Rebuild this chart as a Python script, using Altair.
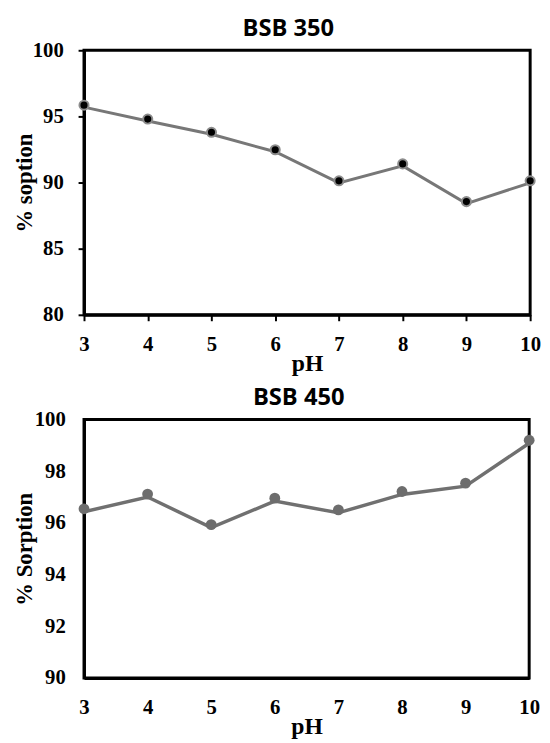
import altair as alt
import pandas as pd

# ---- data ----
ph = [3, 4, 5, 6, 7, 8, 9, 10]
sorption_350 = [95.70, 94.65, 93.65, 92.33, 89.98, 91.26, 88.41, 89.98]
sorption_450 = [96.43, 97.00, 95.82, 96.84, 96.39, 97.10, 97.42, 99.08]
ph_ticks = [3, 4, 5, 6, 7, 8, 9, 10]
y_ticks_350 = [80, 85, 90, 95, 100]
y_ticks_450 = [90, 92, 94, 96, 98, 100]

df350 = pd.DataFrame({"pH": ph, "value": sorption_350})
df450 = pd.DataFrame({"pH": ph, "value": sorption_450})

SERIF = "Liberation Serif"
TITLE_FONT = "Open Sans"

common_axis = dict(
    grid=False,
    domainColor="black",
    domainWidth=3,
    tickColor="black",
    labelFont=SERIF,
    labelFontSize=21,
    labelFontWeight="bold",
    labelColor="black",
    labelOverlap=False,
    titleFont=SERIF,
    titleFontWeight="bold",
    titleColor="black",
)

# ---------------- top chart: BSB 350 ----------------
x350 = alt.X(
    "pH:Q",
    scale=alt.Scale(domain=[3, 10], nice=False, zero=False),
    axis=alt.Axis(
        values=ph_ticks, title="pH", tickSize=6, tickWidth=2, labelPadding=13,
        labelFlush=False, titleFontSize=24, titlePadding=-3,
        **common_axis,
    ),
)
y350 = alt.Y(
    "value:Q",
    scale=alt.Scale(domain=[80, 100], nice=False, zero=False),
    axis=alt.Axis(
        values=y_ticks_350, title="% soption", tickSize=6, tickWidth=2, labelPadding=15,
        titleFontSize=23, titlePadding=-4,
        **common_axis,
    ),
)

base350 = alt.Chart(df350)
line350 = base350.mark_line(color="#777777", strokeWidth=3).encode(x=x350, y=y350)
pts350 = base350.mark_circle(
    size=85, fill="black", stroke="#8c8c8c", strokeWidth=2, opacity=1, yOffset=-2
).encode(x=x350, y=y350)

top = alt.layer(line350, pts350).properties(
    width=452,
    height=268,
    title=alt.TitleParams(
        "BSB 350", font=TITLE_FONT, fontSize=24, fontWeight="bold", color="black",
        anchor="middle", frame="group", offset=-2, dx=-19,
    ),
)

# ---------------- bottom chart: BSB 450 ----------------
x450 = alt.X(
    "pH:Q",
    scale=alt.Scale(domain=[3, 10], nice=False, zero=False),
    axis=alt.Axis(
        values=ph_ticks, title="pH", ticks=False, labelPadding=19,
        labelFlush=False, titleFontSize=24, titlePadding=-3,
        **common_axis,
    ),
)
y450 = alt.Y(
    "value:Q",
    scale=alt.Scale(domain=[90, 100], nice=False, zero=False),
    axis=alt.Axis(
        values=y_ticks_450, title="% Sorption", ticks=False, labelPadding=19,
        titleFontSize=23, titlePadding=-2,
        **common_axis,
    ),
)

base450 = alt.Chart(df450)
line450 = base450.mark_line(color="#707070", strokeWidth=3.5).encode(x=x450, y=y450)
pts450 = base450.mark_circle(size=120, color="#6d6d6d", opacity=1, yOffset=-3).encode(
    x=x450, y=y450
)

bottom = alt.layer(line450, pts450).properties(
    width=451,
    height=262,
    title=alt.TitleParams(
        "BSB 450", font=TITLE_FONT, fontSize=24, fontWeight="bold", color="black",
        anchor="middle", frame="group", offset=-1, dx=-8,
    ),
)

chart = (
    alt.vconcat(top, bottom, spacing=7)
    .properties(padding={"left": 4, "top": 3, "right": 0, "bottom": 0})
    .configure_view(stroke="black", strokeWidth=3)
)

chart.save("out.html", embed_options={"renderer": "svg", "actions": False})
